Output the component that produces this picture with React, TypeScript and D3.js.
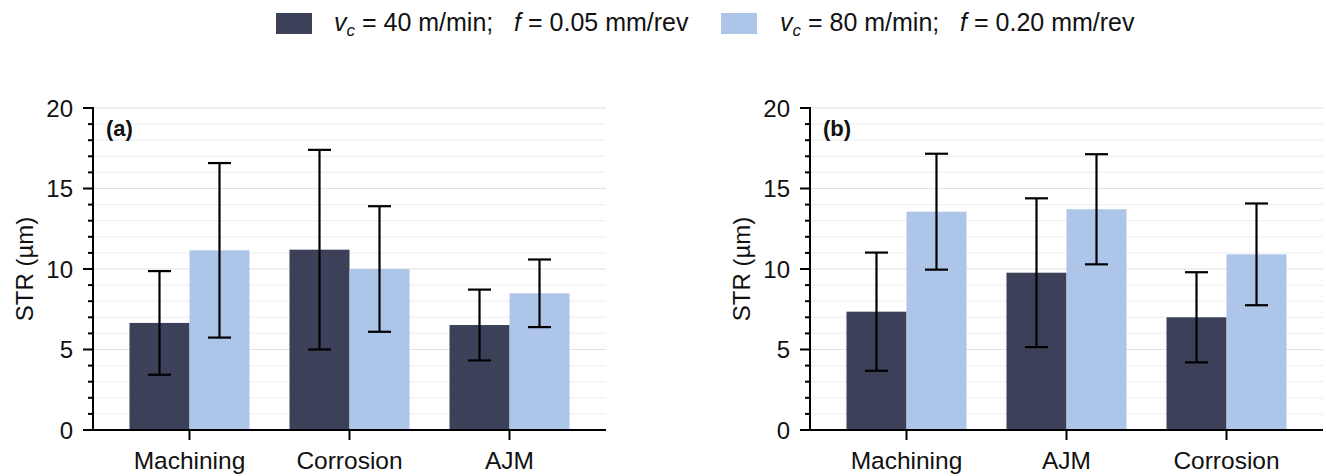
import * as d3 from 'd3';

const seriesKeys = ['low', 'high'];
const seriesColors = ['#3c4059', '#aec5ea'];

const catsA = ['Machining', 'Corrosion', 'AJM'];
const meanA_low = [6.65, 11.2, 6.52];
const errA_low = [3.22, 6.2, 2.2];
const meanA_high = [11.16, 10.0, 8.49];
const errA_high = [5.42, 3.9, 2.1];

const catsB = ['Machining', 'AJM', 'Corrosion'];
const meanB_low = [7.35, 9.77, 7.0];
const errB_low = [3.67, 4.62, 2.8];
const meanB_high = [13.56, 13.71, 10.91];
const errB_high = [3.6, 3.42, 3.16];

const yTicks = [0, 5, 10, 15, 20];
const FONT = '"Liberation Sans", Arial, Helvetica, sans-serif';
const FS = 24;

type PanelProps = {
  x0: number;
  x1: number;
  label: string;
  cats: string[];
  means: number[][];
  errs: number[][];
};

function Panel({ x0, x1, label, cats, means, errs }: PanelProps) {
  const top = 108;
  const bottom = 430;
  const y = d3.scaleLinear().domain([0, 20]).range([bottom, top]);
  const x = d3.scaleBand<string>().domain(cats).range([x0, x1]).paddingInner(0.25).paddingOuter(0.228);
  const xs = d3.scaleBand<string>().domain(seriesKeys).range([0, x.bandwidth()]);
  const minor = d3.range(0, 21, 1);

  return (
    <g>
      {minor.map((v) => (
        <line
          key={'g' + v}
          x1={x0}
          x2={x1}
          y1={y(v)}
          y2={y(v)}
          stroke={v % 5 === 0 ? '#e2e2e2' : '#f0f0f0'}
          strokeWidth={1.2}
        />
      ))}
      {cats.map((c, i) =>
        seriesKeys.map((s, j) => {
          const m = means[j][i];
          const e = errs[j][i];
          const bx = (x(c) as number) + (xs(s) as number);
          const cx = bx + xs.bandwidth() / 2;
          return (
            <g key={c + s}>
              <rect x={bx} y={y(m)} width={xs.bandwidth()} height={y(0) - y(m)} fill={seriesColors[j]} />
              <g stroke="#000" strokeWidth={2.2} fill="none">
                <line x1={cx} x2={cx} y1={y(m + e)} y2={y(m - e)} />
                <line x1={cx - 11.5} x2={cx + 11.5} y1={y(m + e)} y2={y(m + e)} />
                <line x1={cx - 11.5} x2={cx + 11.5} y1={y(m - e)} y2={y(m - e)} />
              </g>
            </g>
          );
        })
      )}
      <g stroke="#000" strokeWidth={2}>
        <line x1={x0} x2={x0} y1={y(0) + 1} y2={y(20) - 1} />
        {minor.map((v) => (
          <line key={'t' + v} x1={x0 - (v % 5 === 0 ? 10 : 5)} x2={x0} y1={y(v)} y2={y(v)} />
        ))}
        <line x1={x0} x2={x1} y1={y(0)} y2={y(0)} />
        {cats.map((c) => {
          const cx = (x(c) as number) + x.bandwidth() / 2;
          return <line key={'xt' + c} x1={cx} x2={cx} y1={y(0)} y2={y(0) + 10} />;
        })}
      </g>
      {yTicks.map((v) => (
        <text key={'yl' + v} x={x0 - 20} y={y(v)} dy="0.36em" textAnchor="end" fontSize={FS} fontFamily={FONT} fill="#111">
          {v}
        </text>
      ))}
      {cats.map((c) => (
        <text
          key={'xl' + c}
          x={(x(c) as number) + x.bandwidth() / 2}
          y={469}
          textAnchor="middle"
          fontSize={24.5}
          fontFamily={FONT}
          fill="#111"
        >
          {c}
        </text>
      ))}
      <text
        transform={`translate(${x0 - 60},${(top + bottom) / 2}) rotate(-90)`}
        textAnchor="middle"
        fontSize={FS}
        fontFamily={FONT}
        fill="#111"
      >
        STR (µm)
      </text>
      <text x={x0 + 13} y={136} fontSize={22} fontWeight="bold" fontFamily={FONT} fill="#111">
        {label}
      </text>
    </g>
  );
}

function LegendText({ x, vc, f }: { x: number; vc: string; f: string }) {
  return (
    <text x={x} y={31} fontSize={25} fontFamily={FONT} fill="#111" xmlSpace="preserve">
      <tspan fontStyle="italic">v</tspan>
      <tspan fontStyle="italic" fontSize={17} dy={5}>c</tspan>
      <tspan dy={-5}>{` = ${vc} m/min;   `}</tspan>
      <tspan fontStyle="italic">f</tspan>
      <tspan>{` = ${f} mm/rev`}</tspan>
    </text>
  );
}

export default function App() {
  return (
    <svg width={1326} height={476} style={{ position: 'absolute', left: 0, top: 0, background: '#fff' }}>
      <rect x={276} y={13} width={36} height={21} fill={seriesColors[0]} />
      <LegendText x={334} vc="40" f="0.05" />
      <rect x={721} y={13} width={36} height={21} fill={seriesColors[1]} />
      <LegendText x={780} vc="80" f="0.20" />
      <Panel
        x0={93}
        x1={606}
        label="(a)"
        cats={catsA}
        means={[meanA_low, meanA_high]}
        errs={[errA_low, errA_high]}
      />
      <Panel
        x0={810}
        x1={1323}
        label="(b)"
        cats={catsB}
        means={[meanB_low, meanB_high]}
        errs={[errB_low, errB_high]}
      />
    </svg>
  );
}
